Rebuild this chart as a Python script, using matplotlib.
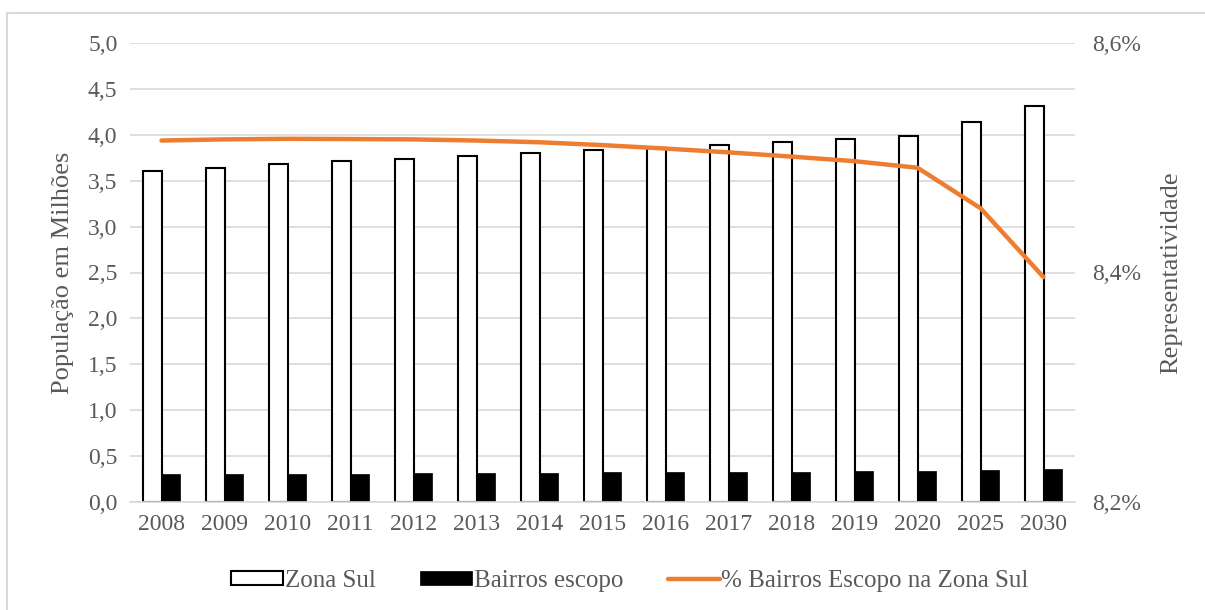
import matplotlib.pyplot as plt
import numpy as np
from matplotlib.patches import Rectangle

plt.rcParams['font.family'] = ['Liberation Serif', 'DejaVu Serif']

# data
anos = ['2008', '2009', '2010', '2011', '2012', '2013', '2014', '2015',
        '2016', '2017', '2018', '2019', '2020', '2025', '2030']
zona_sul = [3.61, 3.64, 3.68, 3.71, 3.74, 3.77, 3.80, 3.83,
            3.86, 3.89, 3.92, 3.95, 3.99, 4.14, 4.31]
bairros = [0.31, 0.31, 0.31, 0.31, 0.32, 0.32, 0.32, 0.33,
           0.33, 0.33, 0.33, 0.335, 0.335, 0.345, 0.36]
pct = [8.515, 8.516, 8.5165, 8.5163, 8.516, 8.515, 8.5135, 8.511,
       8.508, 8.5047, 8.501, 8.497, 8.4913, 8.456, 8.396]

cinza = '#595959'
grade = '#d9d9d9'
laranja = '#ED7D31'

fig = plt.figure(figsize=(12.05, 6.10), dpi=100)
ax = fig.add_axes([130/1205, 1-502/610, 945/1205, 459/610])

x = np.arange(len(anos))
w = 0.29
b1 = ax.bar(x - w/2, zona_sul, w, color='white', edgecolor='black', linewidth=1.5,
            label='Zona Sul', zorder=2)
b2 = ax.bar(x + w/2, bairros, w, color='black', edgecolor='black', linewidth=0.5,
            label='Bairros escopo', zorder=2)

ax.set_xlim(-0.5, len(anos) - 0.5)
ax.set_ylim(0, 5)
ax.set_yticks(np.arange(0, 5.01, 0.5))
ax.set_yticklabels([f'{v:.1f}'.replace('.', ',') for v in np.arange(0, 5.01, 0.5)])
ax.set_xticks(x)
ax.set_xticklabels(anos)
ax.yaxis.grid(True, color=grade, linewidth=1.2, zorder=0)
ax.set_axisbelow(True)
for s in ['top', 'right', 'left']:
    ax.spines[s].set_visible(False)
ax.spines['bottom'].set_color(grade)
ax.spines['bottom'].set_linewidth(1.2)
ax.tick_params(length=0, labelsize=17, colors=cinza, pad=9)
ax.set_ylabel('População em Milhões', fontsize=19, color=cinza, labelpad=10)

ax2 = ax.twinx()
l1, = ax2.plot(x, pct, color=laranja, linewidth=3.2, solid_capstyle='round',
               label='% Bairros Escopo na Zona Sul', zorder=3)
ax2.set_ylim(8.2, 8.6)
ax2.set_yticks([8.2, 8.4, 8.6])
ax2.set_yticklabels(['8,2%', '8,4%', '8,6%'])
for s in ['top', 'right', 'left', 'bottom']:
    ax2.spines[s].set_visible(False)
ax2.tick_params(length=0, labelsize=17, colors=cinza, pad=12)
ax2.set_ylabel('Representatividade', fontsize=19, color=cinza, labelpad=14)

fig.legend(handles=[b1, b2, l1], loc='center', bbox_to_anchor=(630/1205, 1-581/610),
           ncol=3, frameon=False, fontsize=18, labelcolor=cinza,
           handlelength=2.08, handleheight=0.44, handletextpad=0.05, columnspacing=1.8)

# chart border like the spreadsheet frame
fig.patches.append(Rectangle((7/1205, -0.1), 1.1, 1.1 - 13/610, transform=fig.transFigure,
                             fill=False, edgecolor=grade, linewidth=1.5))

fig.savefig('out.png', dpi=100)
